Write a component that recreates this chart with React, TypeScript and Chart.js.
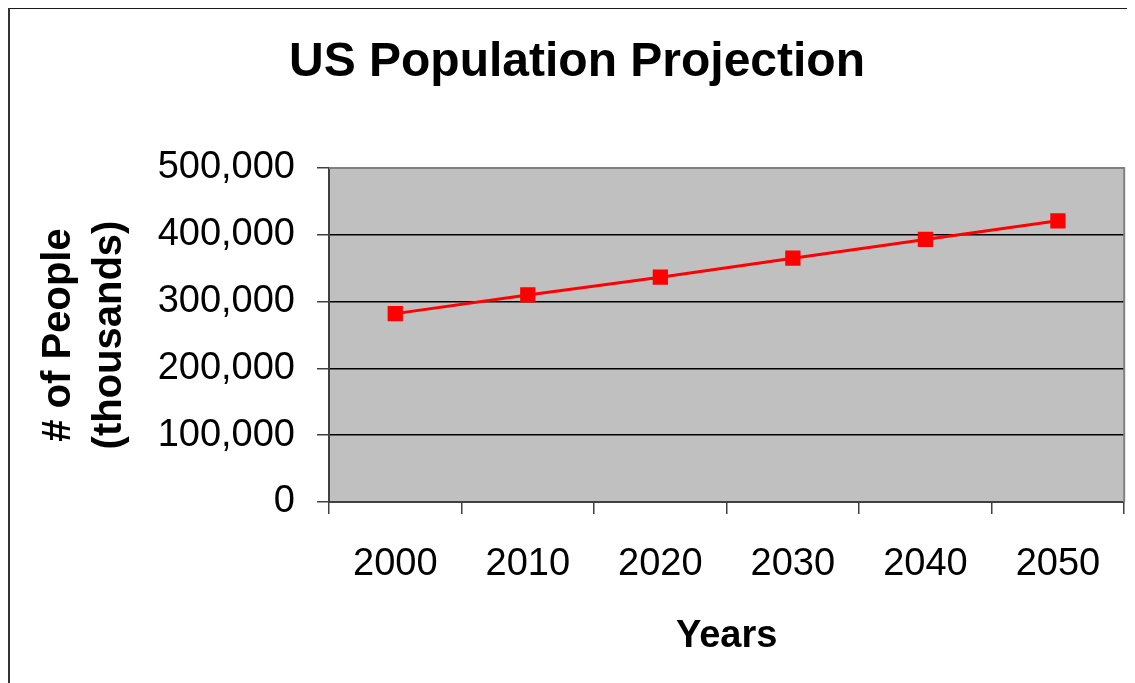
import React, { useEffect, useRef } from "react";
import { Chart, registerables } from "chart.js";

Chart.register(...registerables);

// Projected US resident population, in thousands
const years: string[] = ["2000", "2010", "2020", "2030", "2040", "2050"];
const population: number[] = [282000, 310000, 336500, 365000, 393000, 421000];

const yMin = 0;
const yMax = 500000;
const yStep = 100000;

const chartTitle = "US Population Projection";
const xTitle = "Years";
const yTitle = ["# of People", "(thousands)"];

const FONT = "'Liberation Sans', Arial, Helvetica, sans-serif";

// Grey plot-area fill and frame, drawn behind the series
const plotAreaPlugin = {
  id: "plotArea",
  beforeDraw(chart: any) {
    const { ctx, chartArea } = chart;
    if (!chartArea) return;
    ctx.save();
    ctx.fillStyle = "#c0c0c0";
    ctx.fillRect(
      chartArea.left,
      chartArea.top,
      chartArea.right - chartArea.left,
      chartArea.bottom - chartArea.top
    );
    ctx.restore();
  },
  beforeDatasetsDraw(chart: any) {
    const { ctx, chartArea } = chart;
    ctx.save();
    ctx.strokeStyle = "#808080";
    ctx.lineWidth = 2;
    ctx.beginPath();
    ctx.moveTo(chartArea.left, chartArea.top);
    ctx.lineTo(chartArea.right, chartArea.top);
    ctx.lineTo(chartArea.right, chartArea.bottom);
    ctx.stroke();
    ctx.restore();
  },
};

export default function App() {
  const canvasRef = useRef<HTMLCanvasElement | null>(null);

  useEffect(() => {
    document.documentElement.style.overflow = "hidden";
    document.body.style.overflow = "hidden";
    const canvas = canvasRef.current;
    if (!canvas) return;

    const chart = new Chart(canvas, {
      type: "line",
      data: {
        labels: years,
        datasets: [
          {
            label: "Population",
            data: population,
            borderColor: "#ff0000",
            backgroundColor: "#ff0000",
            borderWidth: 3,
            tension: 0,
            pointStyle: "rect",
            pointRadius: 10.8,
            pointHoverRadius: 10.8,
            pointBackgroundColor: "#ff0000",
            pointBorderColor: "#ff0000",
            pointBorderWidth: 0,
          },
        ],
      },
      options: {
        animation: false,
        responsive: false,
        maintainAspectRatio: false,
        devicePixelRatio: 1,
        layout: { padding: { left: 17, right: 6, top: 0, bottom: 0 } },
        plugins: {
          legend: { display: false },
          tooltip: { enabled: false },
          title: {
            display: true,
            text: chartTitle,
            color: "#000",
            font: { family: FONT, size: 48, weight: "bold", lineHeight: 1.2 },
            padding: { top: 26, bottom: 76.4 },
          },
        },
        scales: {
          x: {
            type: "category",
            offset: true,
            grid: {
              offset: true,
              drawOnChartArea: false,
              drawTicks: true,
              tickLength: 12,
              color: "#404040",
              tickColor: "#404040",
              lineWidth: 1.5,
            },
            border: { display: true, color: "#404040", width: 2 },
            ticks: {
              color: "#000",
              font: { family: FONT, size: 38 },
              padding: 28,
              maxRotation: 0,
              autoSkip: false,
            },
            title: {
              display: true,
              text: xTitle,
              color: "#000",
              font: { family: FONT, size: 38, weight: "bold", lineHeight: 1.2 },
              padding: { top: 0, bottom: 24 },
            },
            afterFit(scale: any) {
              scale.height = 181;
            },
          },
          y: {
            type: "linear",
            min: yMin,
            max: yMax,
            grid: {
              drawTicks: true,
              tickLength: 12,
              color: (c: any) =>
                c.tick && c.tick.value === yMax ? "#808080" : "#000000",
              tickColor: "#404040",
              lineWidth: 1.5,
            },
            border: { display: true, color: "#404040", width: 2 },
            ticks: {
              stepSize: yStep,
              color: "#000",
              font: { family: FONT, size: 38 },
              padding: 22,
              callback: (v: any) => Number(v).toLocaleString("en-US"),
            },
            title: {
              display: true,
              text: yTitle,
              color: "#000",
              font: { family: FONT, size: 40, weight: "bold", lineHeight: 1.28 },
              padding: { top: 8, bottom: 0 },
            },
            afterFit(scale: any) {
              scale.width = 304;
            },
          },
        },
      },
      plugins: [plotAreaPlugin],
    });

    return () => {
      chart.destroy();
    };
  }, []);

  return (
    <div style={{ position: "relative", width: 1127, height: 675 }}>
      <canvas
        ref={canvasRef}
        width={1127}
        height={675}
        style={{ position: "absolute", left: 0, top: 0, width: 1127, height: 675 }}
      />
      <div
        style={{
          position: "absolute",
          left: 0,
          top: -1,
          width: 1119,
          height: 680,
          boxSizing: "border-box",
          borderTop: "2px solid #1a1a1a",
          borderLeft: "2px solid #333",
          pointerEvents: "none",
        }}
      />
    </div>
  );
}
